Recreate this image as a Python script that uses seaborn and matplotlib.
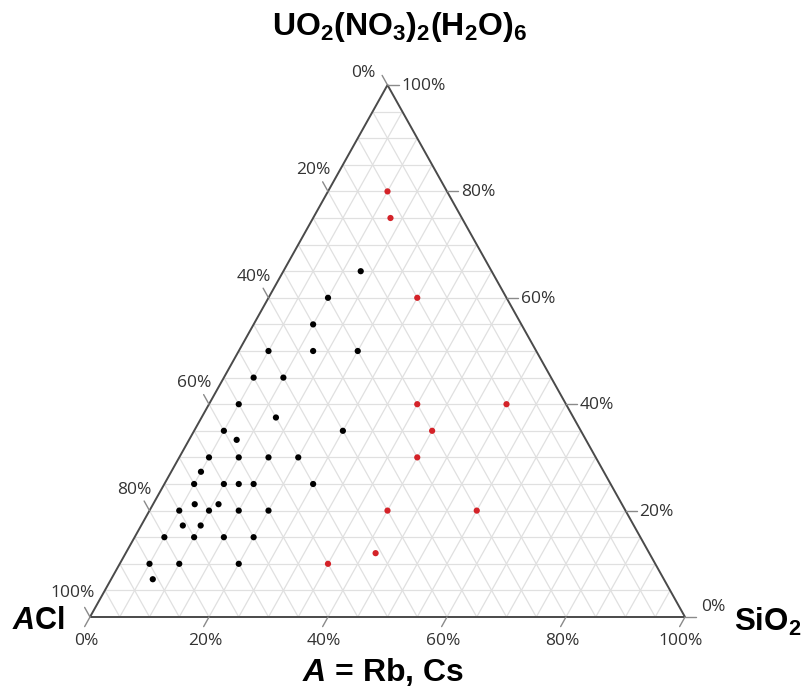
"""
Ternary diagram: ACl - SiO2 - UO2(NO3)2(H2O)6 compositions
"""
# Libraries
import numpy as np
import pandas as pd
import seaborn as sns
import matplotlib.pyplot as plt

# Seaborn
sns.set_theme(style="white")
plt.rcParams['font.family'] = ['Liberation Sans', 'DejaVu Sans']
plt.rcParams['mathtext.fontset'] = 'custom'
plt.rcParams['mathtext.rm'] = 'Liberation Sans'
plt.rcParams['mathtext.bf'] = 'Liberation Sans:bold'
plt.rcParams['mathtext.it'] = 'Liberation Sans:italic'
plt.rcParams['mathtext.bfit'] = 'Liberation Sans:italic:bold'

# ---------------------------------
# Data (mol %)
# ---------------------------------
# Black points: UO2(NO3)2(H2O)6 and SiO2 content, rest is ACl
black_uo2 = [65, 60, 55, 50, 50, 50, 45, 45, 40, 37.5, 35, 35, 33.3,
             30, 30, 30, 30, 27.3, 25, 25, 25, 25, 25, 21.2, 21.2,
             20, 20, 20, 20, 17.2, 17.2, 15, 15, 15, 15, 10, 10, 10, 7.1]
black_sio2 = [13, 10, 10, 5, 12.5, 20, 5, 10, 5, 12.5, 5, 25, 8,
              5, 10, 15, 20, 5, 5, 10, 12.5, 15, 25, 7, 11,
              5, 10, 15, 20, 7, 10, 5, 10, 15, 20, 5, 10, 20, 7]

# Red points
red_uo2 = [80, 75, 60, 40, 40, 35, 30, 20, 20, 12, 10]
red_sio2 = [10, 13, 25, 35, 50, 40, 40, 40, 55, 42, 35]

# Axis ticks
ticks = [0, 20, 40, 60, 80, 100]

# ---------------------------------
# Methods
# ---------------------------------
def to_xy(top, right):
    """Ternary (top %, right %) to cartesian (x, y)."""
    t = np.asarray(top, dtype=float) / 100
    s = np.asarray(right, dtype=float) / 100
    return s + t / 2, t


# Build dataframe
bx, by = to_xy(black_uo2, black_sio2)
rx, ry = to_xy(red_uo2, red_sio2)
data = pd.concat([
    pd.DataFrame({'x': bx, 'y': by, 'group': 'black'}),
    pd.DataFrame({'x': rx, 'y': ry, 'group': 'red'})])

# ---------------------------------
# Plot
# ---------------------------------
W, H = 806, 687
fig = plt.figure(figsize=(W / 100, H / 100), dpi=100)
ax = fig.add_axes([90 / W, 70 / H, 595 / W, 532 / H])
ax.set_xlim(0, 1)
ax.set_ylim(0, 1)
ax.axis('off')

# Grid every 5 %
grid_kw = dict(color='#e0e0e0', lw=0.9, zorder=1)
for k in np.arange(0.05, 1.0, 0.05):
    ax.plot([k / 2, 1 - k / 2], [k, k], **grid_kw)              # const top
    ax.plot([k, k + (1 - k) / 2], [0, 1 - k], **grid_kw)        # const SiO2
    ax.plot([1 - k, (1 - k) / 2], [0, 1 - k], **grid_kw)        # const ACl

# Triangle frame
ax.plot([0, 1, 0.5, 0], [0, 0, 1, 0], color='#4a4a4a', lw=1.4,
        zorder=2, clip_on=False)

# Ticks and labels
px, py = 595.0, 532.0
tl = 11  # tick length in pixels
lab_kw = dict(textcoords='offset pixels', fontsize=12.5, color='#333333',
              family=['Open Sans', 'DejaVu Sans'], annotation_clip=False)
tick_kw = dict(color='#8a8a8a', lw=1.0, clip_on=False, zorder=2)

# bottom axis (SiO2): ticks along const-SiO2 direction, downwards
d = np.array([-0.5 * px, -py]); d = d / np.hypot(*d) * tl
for v in ticks:
    x0, y0 = v / 100, 0
    ax.plot([x0, x0 + d[0] / px], [y0, y0 + d[1] / py], **tick_kw)
    ax.annotate(f'{v}%', (x0, y0), xytext=(-4, -24),
                ha='center', va='center', **lab_kw)

# left axis (ACl): ticks along const-ACl direction, up-left
d = np.array([-0.5 * px, py]); d = d / np.hypot(*d) * tl
for v in ticks:
    t = 1 - v / 100
    x0, y0 = t / 2, t
    ax.plot([x0, x0 + d[0] / px], [y0, y0 + d[1] / py], **tick_kw)
    off = (-24, 12) if v == 0 else ((-17, 24) if v == 100 else (-15, 21))
    ax.annotate(f'{v}%', (x0, y0), xytext=off,
                ha='center', va='center', **lab_kw)

# right axis (UO2...): horizontal ticks to the right
for v in ticks:
    t = v / 100
    x0, y0 = 1 - t / 2, t
    ax.plot([x0, x0 + tl / px], [y0, y0], **tick_kw)
    off = (16, 10) if v == 0 else (14, -1)
    ax.annotate(f'{v}%', (x0, y0), xytext=off,
                ha='left', va='center', **lab_kw)

# Points
sns.scatterplot(data=data, x='x', y='y', hue='group',
                palette={'black': '#000000', 'red': '#d42228'},
                s=20, linewidth=0, legend=False, ax=ax, zorder=3,
                clip_on=False)

# Vertex labels
txt_kw = dict(ha='center', va='center', color='black', fontweight='bold')
fig.text(400 / W, 1 - 27 / H, r'$\mathbf{UO_2(NO_3)_2(H_2O)_6}$',
         fontsize=23, **txt_kw)
fig.text(38 / W, 1 - 621 / H, r'$\mathbfit{A}$Cl',
         fontsize=22, **txt_kw)
fig.text(768 / W, 1 - 622 / H, r'$\mathbf{SiO_2}$',
         fontsize=22.5, **txt_kw)
fig.text(383 / W, 1 - 672 / H, r'$\mathbfit{A}$ = Rb, Cs',
         fontsize=23, **txt_kw)

# Save
fig.savefig('out.png', dpi=100)
